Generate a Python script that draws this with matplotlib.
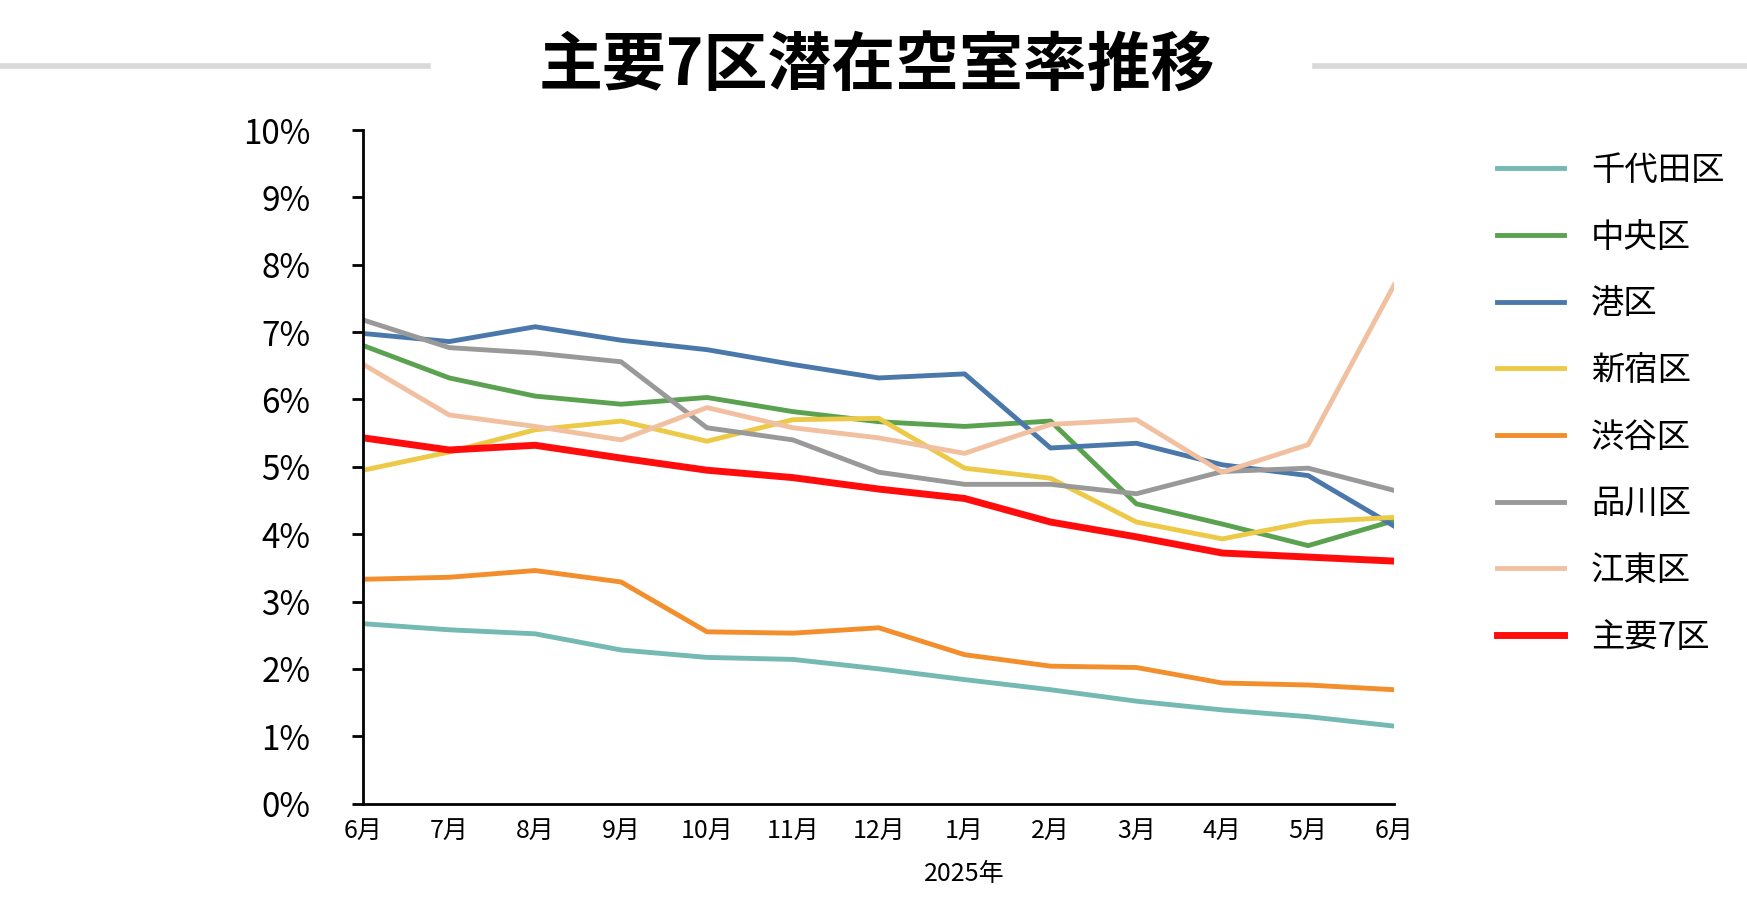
import matplotlib
matplotlib.use("Agg")
import matplotlib.pyplot as plt
from matplotlib.lines import Line2D

plt.rcParams["font.family"] = ["Noto Sans CJK JP"]

months = ["6月","7月","8月","9月","10月","11月","12月","1月","2月","3月","4月","5月","6月"]
chiyoda = [2.67,2.58,2.52,2.28,2.17,2.14,2.0,1.84,1.69,1.52,1.39,1.29,1.15]
chuo = [6.8,6.32,6.05,5.93,6.03,5.82,5.67,5.6,5.68,4.45,4.15,3.83,4.2]
minato = [6.98,6.86,7.08,6.88,6.74,6.52,6.32,6.38,5.28,5.35,5.03,4.87,4.12]
shinjuku = [4.95,5.22,5.55,5.68,5.38,5.7,5.72,4.98,4.83,4.18,3.93,4.18,4.25]
shibuya = [3.33,3.36,3.46,3.29,2.55,2.53,2.61,2.21,2.04,2.02,1.79,1.76,1.69]
shinagawa = [7.18,6.77,6.69,6.56,5.58,5.4,4.92,4.74,4.74,4.6,4.93,4.98,4.65]
koto = [6.52,5.77,5.6,5.4,5.88,5.58,5.43,5.2,5.63,5.7,4.92,5.33,7.7]
major7 = [5.43,5.25,5.32,5.13,4.95,4.84,4.67,4.53,4.18,3.96,3.72,3.66,3.6]

series = [("千代田区",chiyoda,"#74b9b2",3.5),("中央区",chuo,"#5aa24f",3.5),("港区",minato,"#4a78ab",3.5),
          ("新宿区",shinjuku,"#edc948",3.5),("渋谷区",shibuya,"#f28e2b",3.5),("品川区",shinagawa,"#999999",3.5),
          ("江東区",koto,"#f1c0a0",3.5),("主要7区",major7,"#ff0d0d",5)]

fig = plt.figure(figsize=(17.47,9.10), dpi=100)
ax = fig.add_axes([0.208,0.117,0.59,0.74])
x = range(len(months))
handles=[]
for name,vals,c,lw in series:
    ax.plot(x, vals, color=c, lw=lw)
    handles.append(Line2D([],[],color=c,lw=lw))
ax.set_xlim(0,len(months)-1)
ax.set_ylim(0,10)
ax.set_yticks(range(0,11))
ax.set_yticklabels([f"{i}%" for i in range(11)], fontsize=24)
ax.set_xticks(list(x))
ax.set_xticklabels(months, fontsize=18)
ax.set_xlabel("2025年", fontsize=18, labelpad=4)
ax.xaxis.set_label_coords(7/12, -0.085)
for s in ["top","right"]:
    ax.spines[s].set_visible(False)
for s in ["left","bottom"]:
    ax.spines[s].set_linewidth(2)
ax.tick_params(axis="y", width=2, length=8, pad=30)
ax.tick_params(axis="x", length=0, pad=10)
fig.legend(handles,[s[0] for s in series], loc="upper left", bbox_to_anchor=(0.84,0.865),
           frameon=False, fontsize=24, handlelength=2.0, labelspacing=0.95)
fig.text(0.502,0.927,"主要7区潜在空室率推移",ha="center",va="center",fontsize=46,fontweight="bold")
fig.add_artist(Line2D([0.0,0.245],[0.927,0.927],color="#d9d9d9",lw=4))
fig.add_artist(Line2D([0.753,1.0],[0.927,0.927],color="#d9d9d9",lw=4))
fig.savefig("out.png")
